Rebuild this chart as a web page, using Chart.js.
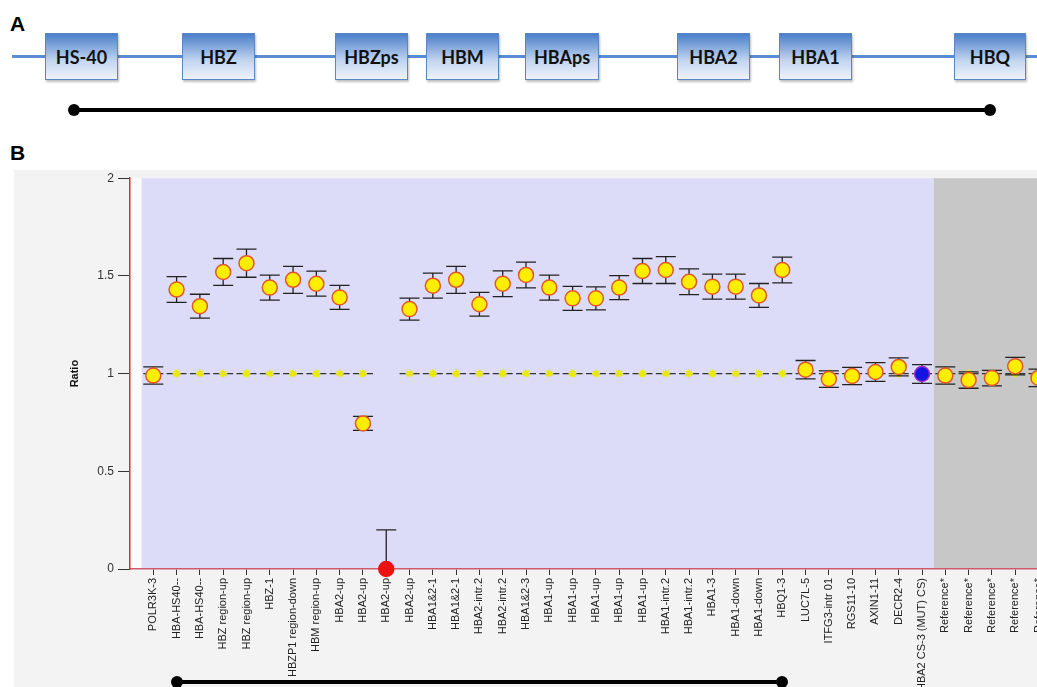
<!DOCTYPE html>
<html>
<head>
<meta charset="utf-8">
<script src="https://cdn.jsdelivr.net/npm/chart.js@4.4.1/dist/chart.umd.min.js"></script>
<style>
html, body { margin: 0; padding: 0; width: 1037px; height: 687px; overflow: hidden; background: #fff; font-family: 'Liberation Sans', Arial, sans-serif; }
.panel-lbl { position: absolute; left: 10px; font: bold 21px 'Liberation Sans', Arial, sans-serif; color: #000; }
.strand { position: absolute; left: 12px; right: 0; top: 55px; height: 3px; background: #5b8dd3; }
.gene { position: absolute; top: 33px; height: 47px; box-sizing: border-box; border: 1px solid #5a86c2;
        background: linear-gradient(#4a7fcb, #c4d6f0 60%, #eef3fb); box-shadow: 1px 2px 2px rgba(0,0,0,.25);
        font: bold 18px Lato, 'Open Sans', sans-serif; color: #111; display: flex; align-items: center; justify-content: center; }
.span { position: absolute; height: 4px; background: #000; }
.span:before, .span:after { content: ''; position: absolute; top: -4px; width: 12px; height: 12px; border-radius: 50%; background: #000; }
.span:before { left: -6px; }
.span:after { right: -6px; }
#panelB { position: absolute; left: 14px; top: 170px; width: 1100px; height: 600px; background: #f3f3f3; }
#chart { position: absolute; left: 14px; top: 167px; }
</style>
</head>
<body>

<div class="panel-lbl" style="top:12px">A</div>
<div class="strand"></div>
<div class="gene" style="left:45px;width:73px">HS-40</div>
<div class="gene" style="left:182px;width:73px">HBZ</div>
<div class="gene" style="left:335px;width:73px">HBZps</div>
<div class="gene" style="left:426px;width:73px">HBM</div>
<div class="gene" style="left:525px;width:74px">HBAps</div>
<div class="gene" style="left:677px;width:73px">HBA2</div>
<div class="gene" style="left:779px;width:73px">HBA1</div>
<div class="gene" style="left:954px;width:72px">HBQ</div>
<div class="span" style="left:74px;width:916px;top:108px"></div>

<div class="panel-lbl" style="top:141px">B</div>
<div id="panelB"></div>
<canvas id="chart" width="1059" height="520"></canvas>
<div class="span" style="left:177px;width:605px;top:680px"></div>

<script>
// probe names along the x axis
var labels = ['POLR3K-3', 'HBA-HS40--', 'HBA-HS40--', 'HBZ region-up', 'HBZ region-up', 'HBZ-1',
    'HBZP1 region-down', 'HBM region-up', 'HBA2-up', 'HBA2-up', 'HBA2-up', 'HBA2-up',
    'HBA1&2-1', 'HBA1&2-1', 'HBA2-intr.2', 'HBA2-intr.2', 'HBA1&2-3', 'HBA1-up', 'HBA1-up',
    'HBA1-up', 'HBA1-up', 'HBA1-up', 'HBA1-intr.2', 'HBA1-intr.2', 'HBA1-3', 'HBA1-down',
    'HBA1-down', 'HBQ1-3', 'LUC7L-5', 'ITFG3-intr 01', 'RGS11-10', 'AXIN1-11', 'DECR2-4',
    'HBA2 CS-3 (MUT) CS)', 'Reference*', 'Reference*', 'Reference*', 'Reference*', 'Reference*'];

// measured ratio per probe
var ratios = [0.99, 1.43, 1.345, 1.52, 1.565, 1.44, 1.48, 1.46, 1.39, 0.745, 0, 1.33,
    1.45, 1.48, 1.355, 1.46, 1.505, 1.44, 1.385, 1.385, 1.44, 1.525, 1.53, 1.47, 1.445,
    1.445, 1.40, 1.53, 1.02, 0.972, 0.988, 1.008, 1.034, 0.998, 0.99, 0.967, 0.977, 1.038, 0.978];

// +/- error (half width)
var errors = [0.044, 0.066, 0.061, 0.069, 0.072, 0.064, 0.069, 0.064, 0.061, 0.036, 0.2, 0.056,
    0.064, 0.069, 0.061, 0.066, 0.066, 0.064, 0.061, 0.059, 0.061, 0.064, 0.069, 0.066, 0.064,
    0.064, 0.061, 0.066, 0.047, 0.042, 0.044, 0.048, 0.046, 0.048, 0.044, 0.042, 0.04, 0.045, 0.045];

// expected (reference) ratio, gap at the deleted probe
var refLevel = [1, 1, 1, 1, 1, 1, 1, 1, 1, 1, null, 1, 1, 1, 1, 1, 1, 1, 1, 1, 1, 1, 1, 1, 1,
    1, 1, 1, 1, 1, 1, 1, 1, 1, 1, 1, 1, 1, 1];

var yTicks = [0, 0.5, 1, 1.5, 2];

var deletedIdx = 10;   // red dot
var mutantIdx = 33;    // blue dot
var lastSampleIdx = 33; // grey band starts after this one

function toPoints(arr) {
    return arr.map(function (v, i) { return { x: i, y: v }; });
}

var bands = {
    id: 'bands',
    beforeDraw: function (chart) {
        var ctx = chart.ctx, a = chart.chartArea, x = chart.scales.x, y = chart.scales.y;
        var top = y.getPixelForValue(2), bot = y.getPixelForValue(0);
        var x0 = x.getPixelForValue(-1), x1 = x.getPixelForValue(-0.5);
        var x2 = x.getPixelForValue(lastSampleIdx + 0.5);
        ctx.save();
        ctx.fillStyle = '#fbfbfb';
        ctx.fillRect(x0, top, x1 - x0, bot - top);
        ctx.fillStyle = '#dcdcf8';
        ctx.fillRect(x1, top, x2 - x1, bot - top);
        ctx.fillStyle = '#c7c7c7';
        ctx.fillRect(x2, top, a.right - x2, bot - top);
        ctx.restore();
    }
};

var errorBars = {
    id: 'errorBars',
    afterDatasetDraw: function (chart, args) {
        if (args.index !== 1) return;
        var ctx = chart.ctx, x = chart.scales.x, y = chart.scales.y;
        ctx.save();
        ctx.strokeStyle = '#222';
        ctx.lineWidth = 1.3;
        ratios.forEach(function (v, i) {
            var px = x.getPixelForValue(i);
            var hi = y.getPixelForValue(v + errors[i]);
            var loV = v - errors[i];
            var lo = y.getPixelForValue(Math.max(loV, 0));
            ctx.beginPath();
            ctx.moveTo(px, hi); ctx.lineTo(px, lo);
            ctx.moveTo(px - 10, hi); ctx.lineTo(px + 10, hi);
            if (loV >= 0) { ctx.moveTo(px - 10, lo); ctx.lineTo(px + 10, lo); }
            ctx.stroke();
        });
        ctx.restore();
    }
};

Chart.defaults.font.family = "'Liberation Sans', Arial, sans-serif";

var ctx = document.getElementById('chart').getContext('2d');
var ratioChart = new Chart(ctx, {
    type: 'scatter',
    data: {
        datasets: [{
            label: 'Ratio',
            data: toPoints(ratios),
            order: 0,
            clip: false,
            pointRadius: 7.5,
            pointBorderWidth: 1.5,
            pointBackgroundColor: function (c) {
                if (c.dataIndex === deletedIdx) return '#ee1111';
                if (c.dataIndex === mutantIdx) return '#1414e0';
                return '#ffee00';
            },
            pointBorderColor: function (c) {
                if (c.dataIndex === deletedIdx) return '#ee1111';
                if (c.dataIndex === mutantIdx) return '#9a2fc8';
                return '#e0582a';
            }
        }, {
            label: 'ref markers',
            data: toPoints(refLevel),
            order: 1,
            pointStyle: 'star',
            pointRadius: 4,
            pointBorderWidth: 1.6,
            pointBorderColor: '#eaea00',
            pointBackgroundColor: '#eaea00'
        }, {
            label: 'ref dashes',
            data: toPoints(refLevel),
            order: 2,
            pointStyle: 'line',
            pointRadius: 10,
            pointBorderWidth: 1.2,
            pointBorderColor: '#333'
        }]
    },
    options: {
        responsive: false,
        animation: false,
        layout: { padding: { top: 5, right: 0, bottom: 0, left: 0 } },
        plugins: {
            legend: { display: false },
            tooltip: { enabled: false }
        },
        scales: {
            x: {
                type: 'linear',
                min: -1,
                max: 39,
                afterBuildTicks: function (s) {
                    s.ticks = labels.map(function (_, i) { return { value: i }; });
                },
                afterFit: function (s) { s.height = 118; },
                border: { color: '#d05a6a', width: 1.5 },
                grid: { drawOnChartArea: false, tickLength: 6, tickColor: '#333' },
                ticks: {
                    autoSkip: false,
                    minRotation: 90,
                    maxRotation: 90,
                    padding: 3,
                    color: '#222',
                    font: { size: 11 },
                    callback: function (v) { return labels[v]; }
                }
            },
            y: {
                min: 0,
                max: 2,
                afterBuildTicks: function (s) {
                    s.ticks = yTicks.map(function (v) { return { value: v }; });
                },
                afterFit: function (s) { s.width = 116; },
                border: { color: '#cc3333', width: 1.5 },
                grid: { drawOnChartArea: false, tickLength: 12, tickColor: '#333' },
                ticks: {
                    padding: 4,
                    color: '#333',
                    font: { size: 12 },
                    callback: function (v) { return String(v); }
                },
                title: {
                    display: true,
                    text: 'Ratio',
                    color: '#111',
                    font: { size: 11, weight: 'bold' },
                    padding: { top: 54, bottom: 0 }
                }
            }
        }
    },
    plugins: [bands, errorBars]
});
</script>
</body>
</html>
